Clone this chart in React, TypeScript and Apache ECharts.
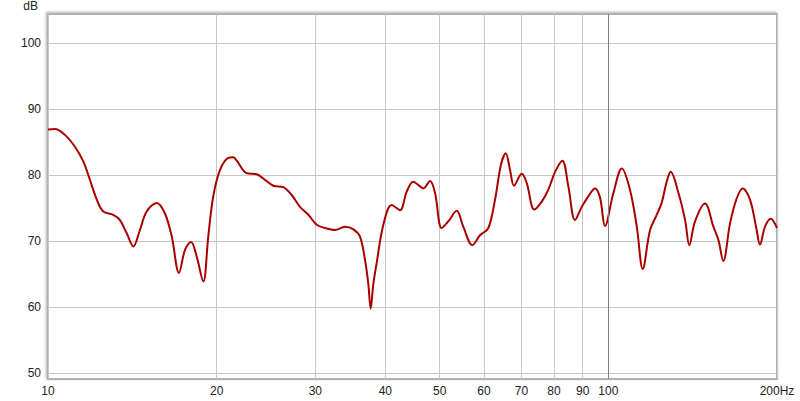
import React, { useEffect, useRef } from 'react';
import * as echarts from 'echarts';

const freqs = [10, 10.29, 10.72, 11.17, 11.56, 11.88, 12.22, 12.55, 13.08, 13.44, 13.82, 14.2, 14.59, 15.0, 15.63, 16.17, 16.63, 17.13, 17.56, 18.0, 18.42, 18.93, 19.32, 19.72, 20.28, 20.98, 21.41, 21.72, 22.63, 23.58, 24.22, 25.24, 26.3, 27.22, 28.17, 29.15, 30.17, 31.22, 32.53, 33.89, 35.07, 36.04, 36.79, 37.3, 37.66, 38.07, 38.6, 39.67, 41.06, 42.48, 43.67, 44.87, 46.12, 46.75, 48.06, 49.06, 50.42, 51.81, 53.63, 55.1, 57.18, 59.02, 61.07, 62.78, 64.34, 65.6, 66.77, 67.87, 70.06, 71.51, 73.78, 76.06, 78.15, 80.34, 82.78, 84.85, 87.22, 89.65, 92.12, 94.68, 96.65, 98.65, 102.1, 105.7, 109.3, 112.4, 115.2, 118.7, 122.0, 124.5, 127.1, 129.2, 133.4, 137.1, 139.5, 142.8, 148.8, 154.0, 157.2, 160.4, 164.9, 169.5, 173.7, 179.0, 183.5, 186.5, 190.4, 194.9, 200];

const levels = [86.9, 87.0, 86.1, 84.3, 82.1, 79.3, 76.3, 74.5, 74.0, 73.2, 71.2, 69.2, 71.7, 74.5, 75.8, 74.2, 70.7, 65.2, 68.7, 69.9, 67.7, 63.9, 70.7, 76.8, 80.8, 82.6, 82.7, 82.2, 80.3, 80.15, 79.5, 78.4, 78.2, 77.0, 75.2, 74.0, 72.5, 72.0, 71.7, 72.2, 71.8, 70.7, 67.2, 63.5, 59.8, 63.5, 66.7, 72.5, 75.5, 74.7, 77.5, 79.0, 78.3, 78.0, 79.1, 77.3, 72.0, 73.0, 74.6, 72.2, 69.4, 70.9, 72.0, 76.3, 81.6, 83.3, 80.8, 78.4, 80.2, 78.8, 74.8, 76.0, 77.8, 80.5, 82.2, 78.3, 73.2, 75.2, 76.8, 78.0, 76.6, 72.3, 77.3, 81.0, 77.8, 72.2, 65.8, 71.7, 74.0, 75.8, 79.0, 80.5, 77.3, 73.2, 69.4, 73.0, 75.7, 72.2, 70.2, 67.0, 72.7, 76.5, 78.0, 76.3, 72.2, 69.5, 72.2, 73.4, 72.0];

const xTicks = [10, 20, 30, 40, 50, 60, 70, 80, 90, 100, 200];
const yTicks = [50, 60, 70, 80, 90, 100];

export default function App() {
  const ref = useRef<HTMLDivElement>(null);
  useEffect(() => {
    const chart = echarts.init(ref.current!, null, { renderer: 'svg' });
    const font = 'Arial, "Liberation Sans", sans-serif';
    chart.setOption({
      animation: false,
      backgroundColor: '#ffffff',
      grid: {
        left: 48, right: 23, top: 14, bottom: 22,
        outerBoundsMode: 'none',
        containLabel: false,
        show: true,
        backgroundColor: '#ffffff',
        borderColor: '#b0b0b0',
        borderWidth: 2,
        shadowColor: 'rgba(0,0,0,0.3)',
        shadowBlur: 3,
        shadowOffsetX: -1,
        shadowOffsetY: -1,
      },
      xAxis: {
        type: 'log',
        logBase: 10,
        min: 10,
        max: 200,
        axisLine: { show: false },
        axisTick: { show: false, customValues: xTicks },
        axisLabel: {
          customValues: xTicks,
          formatter: (v: number) => (Math.round(v) === 200 ? '200Hz' : String(Math.round(v))),
          color: '#222',
          fontSize: 12,
          fontFamily: font,
          margin: 6,
          showMinLabel: true,
          showMaxLabel: true,
        },
        splitLine: { show: true, lineStyle: { color: '#c8c8c8', width: 1 } },
        minorTick: { show: false },
        minorSplitLine: { show: false },
      },
      yAxis: {
        type: 'value',
        min: 49.14,
        max: 104.4,
        name: 'dB',
        nameLocation: 'end',
        nameGap: 8,
        nameTextStyle: { color: '#222', fontSize: 12, fontFamily: font, align: 'right', verticalAlign: 'middle', padding: [0, 10, 0, 0] },
        axisLine: { show: false },
        axisTick: { show: false, customValues: yTicks },
        axisLabel: { customValues: yTicks, color: '#222', fontSize: 12, fontFamily: font, margin: 7 },
        splitLine: { show: true, lineStyle: { color: '#c8c8c8', width: 1 } },
      },
      series: [
        {
          type: 'line',
          data: freqs.map((f, i) => [f, levels[i]]),
          showSymbol: false,
          smooth: 0.35,
          lineStyle: { color: '#a80000', width: 2 },
          itemStyle: { color: '#a80000' },
          markLine: {
            silent: true,
            symbol: ['none', 'none'],
            label: { show: false },
            lineStyle: { color: '#808080', type: 'solid', width: 1 },
            data: [{ xAxis: 100 }],
          },
        },
      ],
    });
    return () => chart.dispose();
  }, []);
  return <div ref={ref} style={{ position: 'absolute', left: 0, top: 0, width: 800, height: 401 }} />;
}
